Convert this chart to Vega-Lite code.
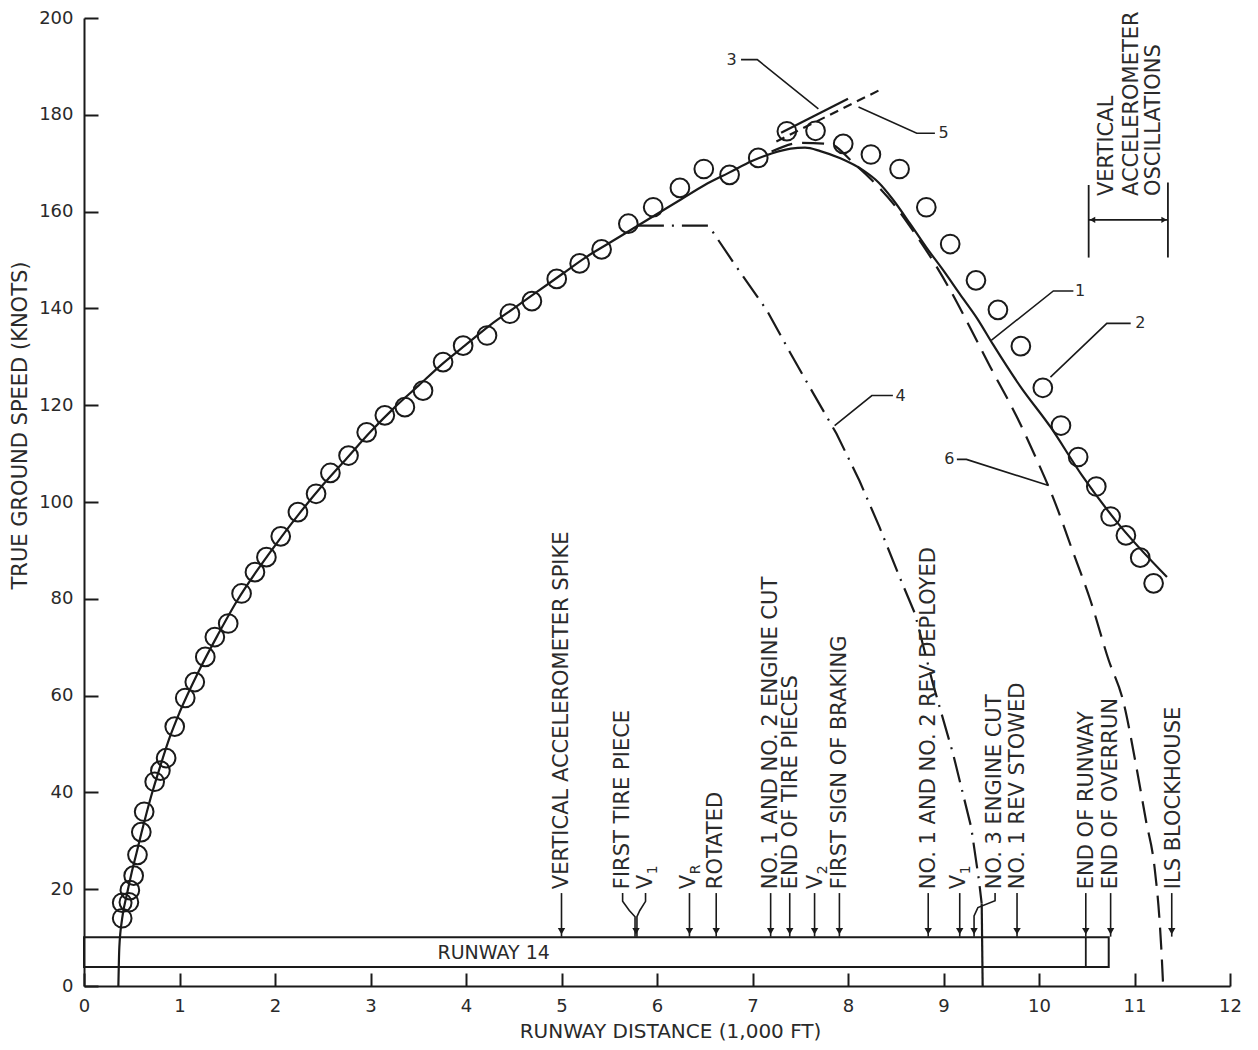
{
  "$schema": "https://vega.github.io/schema/vega-lite/v6.json",
  "width": 1146,
  "height": 968,
  "autosize": {"type": "none"},
  "padding": {"left": 84, "top": 18, "right": 28, "bottom": 64},
  "background": "white",
  "config": {
    "view": {"stroke": null},
    "font": "DejaVu Sans",
    "text": {"font": "DejaVu Sans", "color": "#2a2a2a"}
  },
  "datasets": {
    "circles": [
      {"x":0.40,"y":14.0},{"x":0.40,"y":17.2},{"x":0.47,"y":17.3},{"x":0.48,"y":19.8},{"x":0.52,"y":22.8},
      {"x":0.56,"y":27.1},{"x":0.60,"y":31.8},{"x":0.63,"y":36.0},{"x":0.74,"y":42.2},{"x":0.80,"y":44.5},
      {"x":0.86,"y":47.1},{"x":0.95,"y":53.6},{"x":1.06,"y":59.5},{"x":1.16,"y":62.8},{"x":1.27,"y":68.0},
      {"x":1.37,"y":72.1},{"x":1.51,"y":74.9},{"x":1.65,"y":81.1},{"x":1.79,"y":85.5},{"x":1.91,"y":88.6},
      {"x":2.06,"y":92.9},{"x":2.24,"y":97.9},{"x":2.43,"y":101.7},{"x":2.58,"y":106.0},{"x":2.77,"y":109.6},
      {"x":2.96,"y":114.4},{"x":3.15,"y":117.9},{"x":3.36,"y":119.6},{"x":3.55,"y":123.0},{"x":3.76,"y":128.9},
      {"x":3.97,"y":132.3},{"x":4.22,"y":134.4},{"x":4.46,"y":138.9},{"x":4.69,"y":141.5},{"x":4.95,"y":146.1},
      {"x":5.19,"y":149.3},{"x":5.42,"y":152.2},{"x":5.70,"y":157.5},{"x":5.96,"y":160.9},{"x":6.24,"y":164.9},
      {"x":6.49,"y":168.8},{"x":6.76,"y":167.6},{"x":7.06,"y":171.1},{"x":7.36,"y":176.6},{"x":7.66,"y":176.7},
      {"x":7.95,"y":174.0},{"x":8.24,"y":171.8},{"x":8.54,"y":168.8},{"x":8.82,"y":160.9},{"x":9.07,"y":153.3},
      {"x":9.34,"y":145.8},{"x":9.57,"y":139.7},{"x":9.81,"y":132.2},{"x":10.04,"y":123.6},{"x":10.23,"y":115.8},
      {"x":10.41,"y":109.3},{"x":10.60,"y":103.2},{"x":10.75,"y":97.0},{"x":10.91,"y":93.1},{"x":11.06,"y":88.5},
      {"x":11.20,"y":83.2}
    ],
    "lines": [
      {"g":"c1","s":"solid","o":1,"x":0.36,"y":0},{"g":"c1","s":"solid","o":2,"x":0.37,"y":8},{"g":"c1","s":"solid","o":3,"x":0.40,"y":14},
      {"g":"c1","s":"solid","o":4,"x":0.45,"y":19},{"g":"c1","s":"solid","o":5,"x":0.50,"y":23.5},{"g":"c1","s":"solid","o":6,"x":0.55,"y":27.5},
      {"g":"c1","s":"solid","o":7,"x":0.60,"y":31.5},{"g":"c1","s":"solid","o":8,"x":0.70,"y":39},{"g":"c1","s":"solid","o":9,"x":0.80,"y":45.5},
      {"g":"c1","s":"solid","o":10,"x":0.90,"y":51.5},{"g":"c1","s":"solid","o":11,"x":1.00,"y":56.5},{"g":"c1","s":"solid","o":12,"x":1.20,"y":65},
      {"g":"c1","s":"solid","o":13,"x":1.40,"y":72.5},{"g":"c1","s":"solid","o":14,"x":1.60,"y":79.5},{"g":"c1","s":"solid","o":15,"x":1.80,"y":85.5},
      {"g":"c1","s":"solid","o":16,"x":2.00,"y":91},{"g":"c1","s":"solid","o":17,"x":2.25,"y":97.5},{"g":"c1","s":"solid","o":18,"x":2.50,"y":103.5},
      {"g":"c1","s":"solid","o":19,"x":2.75,"y":109},{"g":"c1","s":"solid","o":20,"x":3.00,"y":114.5},{"g":"c1","s":"solid","o":21,"x":3.25,"y":119.5},
      {"g":"c1","s":"solid","o":22,"x":3.50,"y":124},{"g":"c1","s":"solid","o":23,"x":3.75,"y":128.5},{"g":"c1","s":"solid","o":24,"x":4.00,"y":132.5},
      {"g":"c1","s":"solid","o":25,"x":4.25,"y":136.5},{"g":"c1","s":"solid","o":26,"x":4.50,"y":140},{"g":"c1","s":"solid","o":27,"x":4.75,"y":143.5},
      {"g":"c1","s":"solid","o":28,"x":5.00,"y":147},{"g":"c1","s":"solid","o":29,"x":5.25,"y":150.5},{"g":"c1","s":"solid","o":30,"x":5.50,"y":153.5},
      {"g":"c1","s":"solid","o":31,"x":5.75,"y":156.5},{"g":"c1","s":"solid","o":32,"x":6.00,"y":159.5},{"g":"c1","s":"solid","o":33,"x":6.25,"y":162.5},
      {"g":"c1","s":"solid","o":34,"x":6.50,"y":165.5},{"g":"c1","s":"solid","o":35,"x":6.75,"y":168},{"g":"c1","s":"solid","o":36,"x":7.00,"y":170.5},
      {"g":"c1","s":"solid","o":37,"x":7.20,"y":172},{"g":"c1","s":"solid","o":38,"x":7.40,"y":173},{"g":"c1","s":"solid","o":39,"x":7.55,"y":173.2},
      {"g":"c1","s":"solid","o":40,"x":7.71,"y":172.5},{"g":"c1","s":"solid","o":41,"x":7.92,"y":171},{"g":"c1","s":"solid","o":42,"x":8.16,"y":168.5},
      {"g":"c1","s":"solid","o":43,"x":8.32,"y":166},{"g":"c1","s":"solid","o":44,"x":8.47,"y":162.5},{"g":"c1","s":"solid","o":45,"x":8.65,"y":157.5},
      {"g":"c1","s":"solid","o":46,"x":8.82,"y":152.6},{"g":"c1","s":"solid","o":47,"x":9.00,"y":147.8},{"g":"c1","s":"solid","o":48,"x":9.17,"y":143},
      {"g":"c1","s":"solid","o":49,"x":9.35,"y":138},{"g":"c1","s":"solid","o":50,"x":9.52,"y":132.5},{"g":"c1","s":"solid","o":51,"x":9.80,"y":124},
      {"g":"c1","s":"solid","o":52,"x":10.12,"y":115.5},{"g":"c1","s":"solid","o":53,"x":10.45,"y":105.5},{"g":"c1","s":"solid","o":54,"x":10.81,"y":96},
      {"g":"c1","s":"solid","o":55,"x":11.34,"y":84.5},
      {"g":"c3","s":"solid","o":1,"x":7.30,"y":176.3},{"g":"c3","s":"solid","o":2,"x":8.00,"y":183.3},
      {"g":"c9","s":"solid","o":1,"x":9.40,"y":17},{"g":"c9","s":"solid","o":2,"x":9.41,"y":0},
      {"g":"c4","s":"dashdot","o":1,"x":5.80,"y":157.1},{"g":"c4","s":"dashdot","o":2,"x":6.54,"y":157.1},{"g":"c4","s":"dashdot","o":3,"x":6.80,"y":149.5},
      {"g":"c4","s":"dashdot","o":4,"x":7.15,"y":139.6},{"g":"c4","s":"dashdot","o":5,"x":7.39,"y":131},{"g":"c4","s":"dashdot","o":6,"x":7.60,"y":123.7},
      {"g":"c4","s":"dashdot","o":7,"x":7.88,"y":114.1},{"g":"c4","s":"dashdot","o":8,"x":8.12,"y":104.4},{"g":"c4","s":"dashdot","o":9,"x":8.33,"y":94.8},
      {"g":"c4","s":"dashdot","o":10,"x":8.54,"y":84.5},{"g":"c4","s":"dashdot","o":11,"x":8.70,"y":77},{"g":"c4","s":"dashdot","o":12,"x":8.89,"y":62.4},
      {"g":"c4","s":"dashdot","o":13,"x":9.10,"y":48},{"g":"c4","s":"dashdot","o":14,"x":9.29,"y":32.8},{"g":"c4","s":"dashdot","o":15,"x":9.37,"y":22},
      {"g":"c4","s":"dashdot","o":16,"x":9.40,"y":17},
      {"g":"c6","s":"longdash","o":1,"x":7.20,"y":172.4},{"g":"c6","s":"longdash","o":2,"x":7.50,"y":174.2},{"g":"c6","s":"longdash","o":3,"x":7.80,"y":174},
      {"g":"c6","s":"longdash","o":4,"x":8.06,"y":170},{"g":"c6","s":"longdash","o":5,"x":8.30,"y":165.5},{"g":"c6","s":"longdash","o":6,"x":8.50,"y":161},
      {"g":"c6","s":"longdash","o":7,"x":8.70,"y":155.5},{"g":"c6","s":"longdash","o":8,"x":8.90,"y":149.5},{"g":"c6","s":"longdash","o":9,"x":9.05,"y":144.5},
      {"g":"c6","s":"longdash","o":10,"x":9.24,"y":137.5},{"g":"c6","s":"longdash","o":11,"x":9.49,"y":127.9},{"g":"c6","s":"longdash","o":12,"x":9.77,"y":117.5},
      {"g":"c6","s":"longdash","o":13,"x":9.98,"y":108.6},{"g":"c6","s":"longdash","o":14,"x":10.16,"y":100.3},{"g":"c6","s":"longdash","o":15,"x":10.35,"y":90},
      {"g":"c6","s":"longdash","o":16,"x":10.54,"y":79.6},{"g":"c6","s":"longdash","o":17,"x":10.73,"y":67.3},{"g":"c6","s":"longdash","o":18,"x":10.88,"y":59},
      {"g":"c6","s":"longdash","o":19,"x":11.02,"y":45.2},{"g":"c6","s":"longdash","o":20,"x":11.12,"y":34.2},{"g":"c6","s":"longdash","o":21,"x":11.21,"y":24.5},
      {"g":"c6","s":"longdash","o":22,"x":11.26,"y":14.2},{"g":"c6","s":"longdash","o":23,"x":11.28,"y":8},{"g":"c6","s":"longdash","o":24,"x":11.30,"y":0},
      {"g":"c5","s":"shortdash","o":1,"x":7.25,"y":174.5},{"g":"c5","s":"shortdash","o":2,"x":8.35,"y":185.3}
    ],
    "leaders": [
      {"g":"L3","o":1,"x":6.88,"y":191.4},{"g":"L3","o":2,"x":7.05,"y":191.4},{"g":"L3","o":3,"x":7.69,"y":181.2},
      {"g":"L5","o":1,"x":8.91,"y":176.2},{"g":"L5","o":2,"x":8.72,"y":176.2},{"g":"L5","o":3,"x":8.11,"y":181.6},
      {"g":"L1","o":1,"x":10.36,"y":143.6},{"g":"L1","o":2,"x":10.15,"y":143.6},{"g":"L1","o":3,"x":9.50,"y":133.4},
      {"g":"L2","o":1,"x":10.96,"y":136.9},{"g":"L2","o":2,"x":10.71,"y":136.9},{"g":"L2","o":3,"x":10.12,"y":125.8},
      {"g":"L4","o":1,"x":8.47,"y":122},{"g":"L4","o":2,"x":8.25,"y":122},{"g":"L4","o":3,"x":7.86,"y":115.8},
      {"g":"L6","o":1,"x":9.14,"y":108.8},{"g":"L6","o":2,"x":9.24,"y":108.8},{"g":"L6","o":3,"x":10.10,"y":103.4},
      {"g":"E01","o":1,"x":5.00,"y":19.2},{"g":"E01","o":2,"x":5.00,"y":10.2},
      {"g":"E02","o":1,"x":5.64,"y":19.2},{"g":"E02","o":2,"x":5.64,"y":17.5},{"g":"E02","o":3,"x":5.71,"y":15.6},{"g":"E02","o":4,"x":5.77,"y":14.3},{"g":"E02","o":5,"x":5.77,"y":10.2},
      {"g":"E03","o":1,"x":5.88,"y":19.2},{"g":"E03","o":2,"x":5.88,"y":17.5},{"g":"E03","o":3,"x":5.82,"y":15.6},{"g":"E03","o":4,"x":5.79,"y":14.3},{"g":"E03","o":5,"x":5.79,"y":10.2},
      {"g":"E04","o":1,"x":6.34,"y":19.2},{"g":"E04","o":2,"x":6.34,"y":10.2},
      {"g":"E05","o":1,"x":6.62,"y":19.2},{"g":"E05","o":2,"x":6.62,"y":10.2},
      {"g":"E06","o":1,"x":7.19,"y":19.2},{"g":"E06","o":2,"x":7.19,"y":10.2},
      {"g":"E07","o":1,"x":7.39,"y":19.2},{"g":"E07","o":2,"x":7.39,"y":10.2},
      {"g":"E08","o":1,"x":7.65,"y":19.2},{"g":"E08","o":2,"x":7.65,"y":10.2},
      {"g":"E09","o":1,"x":7.91,"y":19.2},{"g":"E09","o":2,"x":7.91,"y":10.2},
      {"g":"E10","o":1,"x":8.84,"y":19.2},{"g":"E10","o":2,"x":8.84,"y":10.2},
      {"g":"E11","o":1,"x":9.17,"y":19.2},{"g":"E11","o":2,"x":9.17,"y":10.2},
      {"g":"E12","o":1,"x":9.54,"y":19.2},{"g":"E12","o":2,"x":9.54,"y":17.6},{"g":"E12","o":3,"x":9.36,"y":16.2},{"g":"E12","o":4,"x":9.32,"y":14.5},{"g":"E12","o":5,"x":9.32,"y":10.2},
      {"g":"E13","o":1,"x":9.77,"y":19.2},{"g":"E13","o":2,"x":9.77,"y":10.2},
      {"g":"E14","o":1,"x":10.49,"y":19.2},{"g":"E14","o":2,"x":10.49,"y":10.2},
      {"g":"E15","o":1,"x":10.75,"y":19.2},{"g":"E15","o":2,"x":10.75,"y":10.2},
      {"g":"E16","o":1,"x":11.39,"y":19.2},{"g":"E16","o":2,"x":11.39,"y":10.2}
    ],
    "tips": [
      {"x":5.00,"y":11.3},{"x":5.78,"y":11.3},{"x":6.34,"y":11.3},{"x":6.62,"y":11.3},{"x":7.19,"y":11.3},{"x":7.39,"y":11.3},{"x":7.65,"y":11.3},{"x":7.91,"y":11.3},
      {"x":8.84,"y":11.3},{"x":9.17,"y":11.3},{"x":9.32,"y":11.3},{"x":9.77,"y":11.3},{"x":10.49,"y":11.3},{"x":10.75,"y":11.3},{"x":11.39,"y":11.3}
    ],
    "segs": [
      {"x":10.49,"y":3.9,"x2":10.49,"y2":10.05},
      {"x":10.52,"y":150.5,"x2":10.52,"y2":165.5},
      {"x":11.35,"y":150.5,"x2":11.35,"y2":166},
      {"x":10.52,"y":158.3,"x2":11.35,"y2":158.3}
    ],
    "brtips": [
      {"x":10.56,"y":158.3,"d":"left"},{"x":11.31,"y":158.3,"d":"right"}
    ],
    "runway": [{"x":0,"x2":10.73,"y":3.9,"y2":10.05}],
    "events": [
      {"t":"VERTICAL ACCELEROMETER SPIKE","x":5.00,"y":20},
      {"t":"FIRST TIRE PIECE","x":5.64,"y":20},
      {"t":"V","x":5.88,"y":20},
      {"t":"V","x":6.33,"y":20},
      {"t":"ROTATED","x":6.62,"y":20},
      {"t":"NO. 1 AND NO. 2 ENGINE CUT","x":7.19,"y":20},
      {"t":"END OF TIRE PIECES","x":7.40,"y":20},
      {"t":"V","x":7.67,"y":20},
      {"t":"FIRST SIGN OF BRAKING","x":7.92,"y":20},
      {"t":"NO. 1 AND NO. 2 REV DEPLOYED","x":8.85,"y":20},
      {"t":"V","x":9.16,"y":20},
      {"t":"NO. 3 ENGINE CUT","x":9.54,"y":20},
      {"t":"NO. 1 REV STOWED","x":9.78,"y":20},
      {"t":"END OF RUNWAY","x":10.50,"y":20},
      {"t":"END OF OVERRUN","x":10.75,"y":20},
      {"t":"ILS BLOCKHOUSE","x":11.41,"y":20}
    ],
    "subs": [
      {"t":"1","x":5.88,"y":20},{"t":"R","x":6.33,"y":20},{"t":"2","x":7.67,"y":20},{"t":"1","x":9.16,"y":20}
    ],
    "nums": [
      {"t":"3","x":6.78,"y":191.4},{"t":"5","x":9.00,"y":176.2},{"t":"1","x":10.43,"y":143.6},
      {"t":"2","x":11.06,"y":136.9},{"t":"4","x":8.55,"y":122},{"t":"6","x":9.06,"y":108.8}
    ],
    "osc": [
      {"t":"VERTICAL","x":10.71,"y":163.2},{"t":"ACCELEROMETER","x":10.97,"y":163.2},{"t":"OSCILLATIONS","x":11.20,"y":163.2}
    ],
    "rwlabel": [{"t":"RUNWAY 14","x":4.29,"y":6.8}]
  },
  "encoding": {
    "x": {
      "field": "x", "type": "quantitative",
      "scale": {"domain": [0, 12], "nice": false, "zero": false},
      "axis": {
        "values": [0,1,2,3,4,5,6,7,8,9,10,11,12],
        "title": "RUNWAY DISTANCE (1,000 FT)",
        "grid": false, "tickSize": -13, "labelPadding": 24, "labelFlush": false, "labelOverlap": false,
        "domainWidth": 2, "tickWidth": 2, "domainColor": "#1a1a1a", "tickColor": "#1a1a1a",
        "labelColor": "#2a2a2a", "labelFontSize": 18, "labelFont": "DejaVu Sans",
        "titleFont": "DejaVu Sans", "titleFontSize": 20, "titleFontWeight": "normal", "titleColor": "#2a2a2a",
        "titleX": 586, "titleY": 45, "titleBaseline": "middle", "titleAlign": "center"
      }
    },
    "y": {
      "field": "y", "type": "quantitative",
      "scale": {"domain": [0, 200], "nice": false, "zero": false},
      "axis": {
        "values": [0,20,40,60,80,100,120,140,160,180,200],
        "title": "TRUE GROUND SPEED (KNOTS)",
        "grid": false, "tickSize": -14, "labelPadding": 25, "labelOverlap": false, "labelFlush": false,
        "domainWidth": 2, "tickWidth": 2, "domainColor": "#1a1a1a", "tickColor": "#1a1a1a",
        "labelColor": "#2a2a2a", "labelFontSize": 18, "labelFont": "DejaVu Sans",
        "titleFont": "DejaVu Sans", "titleFontSize": 21, "titleFontWeight": "normal", "titleColor": "#2a2a2a",
        "titleX": -64, "titleY": 407, "titleAngle": 270, "titleBaseline": "middle", "titleAlign": "center"
      }
    }
  },
  "layer": [
    {
      "data": {"name": "runway"},
      "mark": {"type": "rect", "fill": null, "fillOpacity": 0, "stroke": "#1a1a1a", "strokeWidth": 2},
      "encoding": {"x2": {"field": "x2"}, "y2": {"field": "y2"}}
    },
    {
      "data": {"name": "segs"},
      "mark": {"type": "rule", "stroke": "#1a1a1a", "strokeWidth": 1.8},
      "encoding": {"x2": {"field": "x2"}, "y2": {"field": "y2"}}
    },
    {
      "data": {"name": "lines"},
      "transform": [{"filter": "datum.s === 'solid'"}],
      "mark": {"type": "line", "stroke": "#1a1a1a", "strokeWidth": 2.2, "interpolate": "monotone"},
      "encoding": {"detail": {"field": "g"}, "order": {"field": "o"}}
    },
    {
      "data": {"name": "lines"},
      "transform": [{"filter": "datum.s === 'dashdot'"}],
      "mark": {"type": "line", "stroke": "#1a1a1a", "strokeWidth": 2.2, "strokeDash": [26, 8, 2, 8], "interpolate": "linear"},
      "encoding": {"detail": {"field": "g"}, "order": {"field": "o"}}
    },
    {
      "data": {"name": "lines"},
      "transform": [{"filter": "datum.s === 'longdash'"}],
      "mark": {"type": "line", "stroke": "#1a1a1a", "strokeWidth": 2.2, "strokeDash": [22, 10], "interpolate": "monotone"},
      "encoding": {"detail": {"field": "g"}, "order": {"field": "o"}}
    },
    {
      "data": {"name": "lines"},
      "transform": [{"filter": "datum.s === 'shortdash'"}],
      "mark": {"type": "line", "stroke": "#1a1a1a", "strokeWidth": 2.2, "strokeDash": [9, 6]},
      "encoding": {"detail": {"field": "g"}, "order": {"field": "o"}}
    },
    {
      "data": {"name": "leaders"},
      "mark": {"type": "line", "stroke": "#1a1a1a", "strokeWidth": 1.6},
      "encoding": {"detail": {"field": "g"}, "order": {"field": "o"}}
    },
    {
      "data": {"name": "tips"},
      "mark": {"type": "point", "shape": "triangle-down", "filled": true, "color": "#1a1a1a", "size": 55, "opacity": 1}
    },
    {
      "data": {"name": "brtips"},
      "mark": {"type": "point", "filled": true, "color": "#1a1a1a", "size": 40, "opacity": 1},
      "encoding": {"shape": {"field": "d", "type": "nominal", "scale": {"domain": ["left", "right"], "range": ["triangle-left", "triangle-right"]}, "legend": null}}
    },
    {
      "data": {"name": "circles"},
      "mark": {"type": "point", "shape": "circle", "filled": false, "stroke": "#1a1a1a", "strokeWidth": 2, "size": 350, "opacity": 1}
    },
    {
      "data": {"name": "events"},
      "mark": {"type": "text", "angle": 270, "align": "left", "baseline": "middle", "fontSize": 21, "color": "#2a2a2a"},
      "encoding": {"text": {"field": "t"}}
    },
    {
      "data": {"name": "subs"},
      "mark": {"type": "text", "angle": 270, "align": "left", "baseline": "middle", "fontSize": 14, "dx": 15, "dy": 7, "color": "#2a2a2a"},
      "encoding": {"text": {"field": "t"}}
    },
    {
      "data": {"name": "nums"},
      "mark": {"type": "text", "align": "center", "baseline": "middle", "fontSize": 16, "color": "#2a2a2a"},
      "encoding": {"text": {"field": "t"}}
    },
    {
      "data": {"name": "osc"},
      "mark": {"type": "text", "angle": 270, "align": "left", "baseline": "middle", "fontSize": 21, "color": "#2a2a2a"},
      "encoding": {"text": {"field": "t"}}
    },
    {
      "data": {"name": "rwlabel"},
      "mark": {"type": "text", "align": "center", "baseline": "middle", "fontSize": 19, "color": "#2a2a2a"},
      "encoding": {"text": {"field": "t"}}
    }
  ]
}
